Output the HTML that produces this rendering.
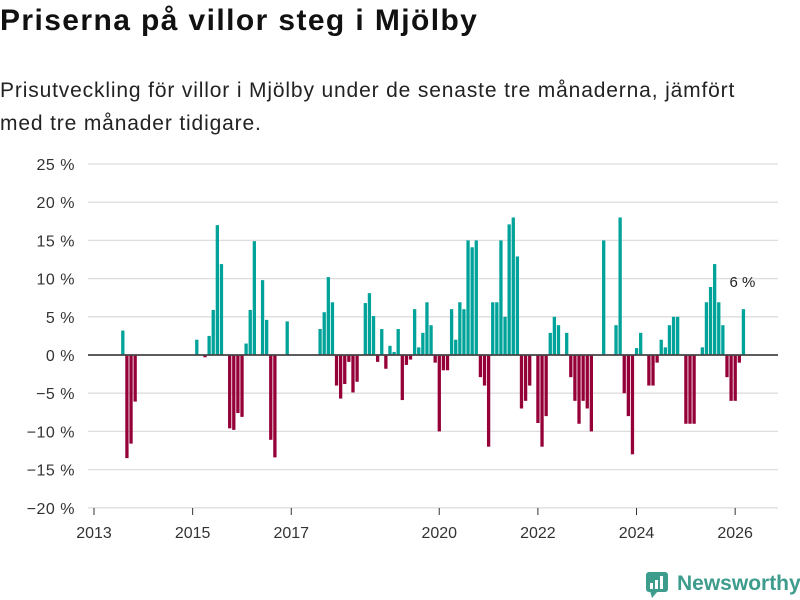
<!DOCTYPE html>
<html><head><meta charset="utf-8">
<style>
body{margin:0;background:#fff;font-family:"Liberation Sans",sans-serif;}
#wrap{position:relative;width:800px;height:600px;overflow:hidden;}
h1{position:absolute;left:0;top:4px;margin:0;font-size:30px;font-weight:bold;color:#111;letter-spacing:1.4px;white-space:nowrap}
p.sub{position:absolute;left:0;top:74px;margin:0;font-size:21px;line-height:33px;color:#222;width:775px;letter-spacing:0.85px}
svg{position:absolute;left:0;top:0}
</style></head><body>
<div id="wrap">
<h1>Priserna på villor steg i Mjölby</h1>
<p class="sub">Prisutveckling för villor i Mjölby under de senaste tre månaderna, jämfört med tre månader tidigare.</p>
<svg id="chart" width="800" height="600"></svg>
</div>
<script>
const yTicks=[25,20,15,10,5,0,-5,-10,-15,-20];
const yTickLabels=["25 %","20 %","15 %","10 %","5 %","0 %","−5 %","−10 %","−15 %","−20 %"];
const xTickMonths=[0,24,48,84,108,132,156];
const xTickLabels=["2013","2015","2017","2020","2022","2024","2026"];
const values=[0,0,0,0,0,0,0,3.2,-13.5,-11.6,-6.1,
0,0,0,0,0,0,0,0,0,0,0,0,0,0,
2,0,-0.3,2.5,5.9,17,11.9,0,-9.6,-9.8,-7.6,-8.1,1.5,5.9,14.9,0,9.8,4.6,-11.1,-13.4,0,0,4.4,
0,0,0,0,0,0,0,
3.4,5.6,10.2,6.9,-4,-5.7,-3.8,-0.9,-4.9,-3.5,0,6.8,8.1,5.1,-0.9,3.4,-1.8,1.2,0.4,3.4,-5.9,-1.3,-0.6,6,1,2.9,6.9,3.9,-1,
-10,-2,-2,6,2,6.9,6,15,14.1,15,-2.9,-4,-12,6.9,6.9,15,5,17.1,18,12.9,-7,-6,-4,0,
-8.9,-12,-8,2.9,5,3.9,0,2.9,-2.9,-6,-9,-6,-7,-10,0,0,15,0,0,3.9,18,-5,-8,-13,
0.9,2.9,0,-4,-4,-1,2,1,3.9,5,5,0,-9,-9,-9,0,
1,6.9,8.9,11.9,6.9,3.9,-2.9,-6,-6,-1,6];
const annotation="6 %";

const svg=document.getElementById('chart');
const NS='http://www.w3.org/2000/svg';
const X0=94,PXM=4.11,Y0=355,PXP=7.64;
function x(i){return X0+i*PXM;}
function y(v){return Y0-v*PXP;}
function mk(t,a){const e=document.createElementNS(NS,t);for(const k in a)e.setAttribute(k,a[k]);svg.appendChild(e);return e;}
yTicks.forEach((t,k)=>{
  if(t!==0){const g=mk('line',{x1:88,x2:778,y1:y(t),y2:y(t),stroke:'#dedede','stroke-width':1.3});
  
  }
  const l=mk('text',{x:75,y:y(t)+6,'text-anchor':'end','font-size':16,fill:'#333','font-family':'Liberation Sans, sans-serif','letter-spacing':0.5});
  l.textContent=yTickLabels[k];
  
  
});
values.forEach((v,i)=>{
  if(v===0)return;
  const top=v>0?y(v):y(0);
  const r=mk('rect',{x:x(i)-1.6,y:top,width:3.3,height:Math.abs(v)*PXP,fill:v>0?'#00a39a':'#960039'});
  
  
});
const z=mk('line',{x1:88,x2:778,y1:y(0),y2:y(0),stroke:'#444','stroke-width':1.8});


xTickMonths.forEach((m,k)=>{
  const t=mk('line',{x1:x(m),x2:x(m),y1:508,y2:515,stroke:'#333','stroke-width':1});
  
  
  const l=mk('text',{x:x(m),y:538,'text-anchor':'middle','font-size':16,fill:'#333','font-family':'Liberation Sans, sans-serif'});
  l.textContent=xTickLabels[k];
  
  
});
const last=values.length-1;
const an=mk('text',{x:x(last)-1,y:y(values[last])-22,'text-anchor':'middle','font-size':15,fill:'#222','font-family':'Liberation Sans, sans-serif'});
an.textContent=annotation;


const lg=mk('rect',{x:646,y:572,width:22,height:20,rx:3,fill:'#3d9c8c'});


const lp=mk('polygon',{points:'650,591 658,591 652,598',fill:'#3d9c8c'});


[[650,583,3,6],[655,580,3,9],[660,576,3,13]].forEach(b=>{
  const r=mk('rect',{x:b[0],y:b[1],width:b[2],height:b[3],fill:'#fff'});
  
  
});
const lt=mk('text',{x:677,y:590,'font-size':21,'font-weight':'bold',fill:'#3d9c8c','font-family':'Liberation Sans, sans-serif'});
lt.textContent='Newsworthy';


</script>
</body></html>
